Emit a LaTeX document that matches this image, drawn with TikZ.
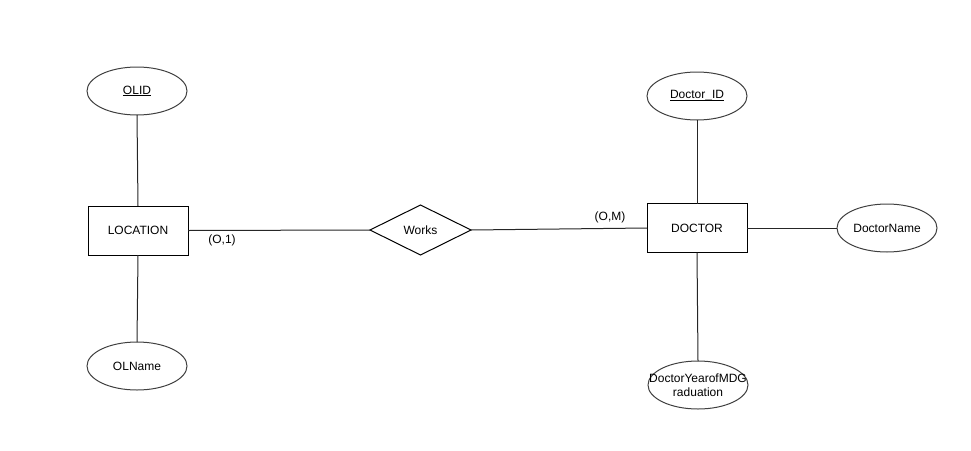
\documentclass[tikz,border=0pt]{standalone}
\usepackage{fontspec}
\setmainfont{Liberation Sans}
\usetikzlibrary{shapes.geometric}
\newcommand{\myul}[1]{\underline{\smash{#1}}\vphantom{#1}}
\begin{document}
\begin{tikzpicture}[x=1pt,y=-1pt,
  every node/.style={font=\fontsize{12}{14}\selectfont, inner sep=0pt, outer sep=0pt},
  entity/.style={draw=black, line width=1pt, minimum width=100pt, minimum height=49pt},
  attr/.style={draw=black!75, line width=1pt, ellipse, minimum width=100pt, minimum height=48pt},
  rel/.style={draw=black, line width=1pt, diamond, minimum width=101pt, minimum height=50pt, aspect=2},
  conn/.style={draw=black!85, line width=1pt},
  lbl/.style={font=\fontsize{12}{14}\selectfont}]
\useasboundingbox (0,0) rectangle (971,450);
\node[entity] (loc) at (138,230.5) {LOCATION};
\node[attr] (olid) at (137,91) {\myul{OLID}};
\node[attr] (olname) at (137,366) {OLName};
\node[rel] (works) at (420.5,230) {Works};
\node[entity] (doc) at (697,228) {DOCTOR};
\node[attr] (docid) at (697,96) {\myul{Doctor\_ID}};
\node[attr] (docname) at (887,228) {DoctorName};
\node[attr] (docyear) at (698,385) {};
\node[align=center, font=\fontsize{12}{14}\selectfont] (docyeartext) at (698,385) {DoctorYearofMDG\\raduation};
\draw[conn] (loc.north) -- (olid.south);
\draw[conn] (loc.south) -- (olname.north);
\draw[conn] (loc.east) -- (works.west);
\draw[conn] (works.east) -- (doc.west);
\draw[conn] (doc.north) -- (docid.south);
\draw[conn] (doc.east) -- (docname.west);
\draw[conn] (doc.south) -- (docyear.north);
\node[lbl] (l1) at (222,240) {(O,1)};
\node[lbl] (l2) at (610,217) {(O,M)};
\end{tikzpicture}
\end{document}
